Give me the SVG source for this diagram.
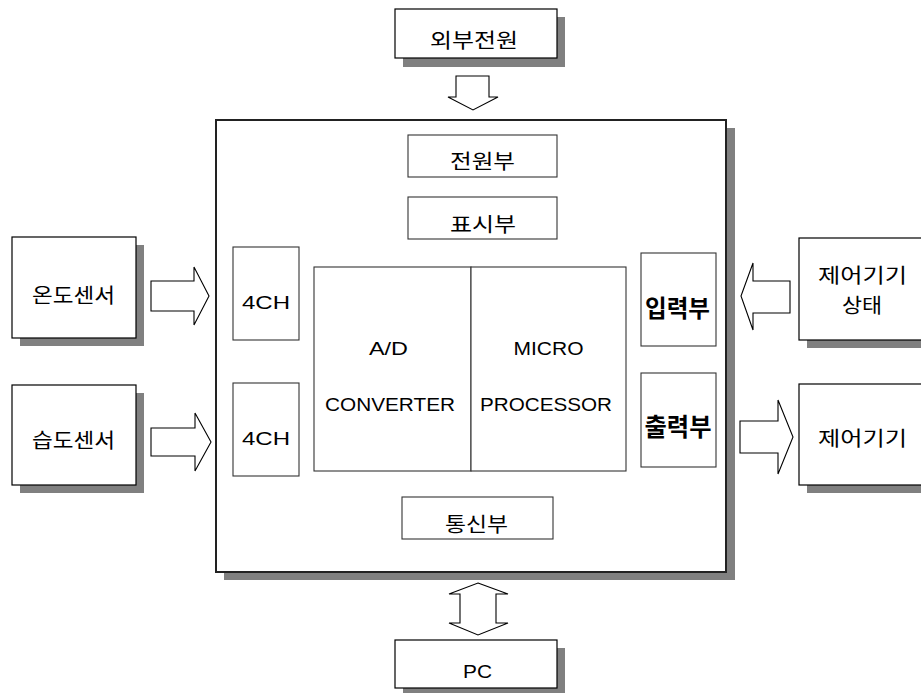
<svg xmlns="http://www.w3.org/2000/svg" width="921" height="693" viewBox="0 0 921 693">
<style>
.sh{fill:#808080;stroke:none}
.ob{fill:#fff;stroke:#000;stroke-width:1.2}
.mb{fill:#fff;stroke:#222;stroke-width:2}
.ib{fill:#fff;stroke:#333;stroke-width:1.1}
.ar{fill:#fff;stroke:#000;stroke-width:1.1;stroke-linejoin:miter}
.ko{font-family:"Noto Sans CJK KR","Noto Sans",sans-serif;font-size:20px;fill:#000;text-anchor:middle}
.la{font-family:"Liberation Sans",Arial,sans-serif;font-size:19px;fill:#000;text-anchor:middle}
</style>
<rect width="921" height="693" fill="#fff"/>
<g id="main">
<rect class="sh" x="224" y="128" width="511" height="452"/>
<rect class="mb" x="216" y="120" width="510" height="452"/>
</g>
<g id="ext-power">
<rect class="sh" x="403" y="17" width="162" height="50"/>
<rect class="ob" x="395" y="9" width="162" height="49"/>
<text class="ko" x="474" y="47.5" textLength="88" lengthAdjust="spacingAndGlyphs">외부전원</text>
</g>
<g id="temp-sensor">
<rect class="sh" x="20" y="245" width="124" height="101"/>
<rect class="ob" x="12" y="237" width="124" height="101"/>
<text class="ko" x="73.5" y="302.5" textLength="83" lengthAdjust="spacingAndGlyphs">온도센서</text>
</g>
<g id="humid-sensor">
<rect class="sh" x="20" y="393" width="124" height="100"/>
<rect class="ob" x="12" y="385" width="124" height="100"/>
<text class="ko" x="73.5" y="448" textLength="83" lengthAdjust="spacingAndGlyphs">습도센서</text>
</g>
<g id="ctrl-state">
<rect class="sh" x="807" y="246" width="130" height="102"/>
<rect class="ob" x="799" y="238" width="130" height="102"/>
<text class="ko" x="862.5" y="283" font-size="17" textLength="89" lengthAdjust="spacingAndGlyphs">제어기기</text>
<text class="ko" x="862" y="313" font-size="17" textLength="40" lengthAdjust="spacingAndGlyphs">상태</text>
</g>
<g id="ctrl-device">
<rect class="sh" x="807" y="392" width="130" height="101"/>
<rect class="ob" x="799" y="384" width="130" height="101"/>
<text class="ko" x="862.5" y="445.5" textLength="89" lengthAdjust="spacingAndGlyphs">제어기기</text>
</g>
<g id="pc">
<rect class="sh" x="403" y="648" width="162" height="48"/>
<rect class="ob" x="395" y="640" width="162" height="48"/>
<text class="la" x="477.5" y="678" font-size="20" textLength="29" lengthAdjust="spacingAndGlyphs">PC</text>
</g>
<g id="power-unit">
<rect class="ib" x="408" y="135" width="149" height="42"/>
<text class="ko" x="482.5" y="168.5" textLength="65" lengthAdjust="spacingAndGlyphs">전원부</text>
</g>
<g id="display-unit">
<rect class="ib" x="408" y="197" width="149" height="42"/>
<text class="ko" x="483" y="231.5" textLength="66" lengthAdjust="spacingAndGlyphs">표시부</text>
</g>
<g id="comm-unit">
<rect class="ib" x="402" y="497" width="151" height="42"/>
<text class="ko" x="476.5" y="531.5" textLength="63" lengthAdjust="spacingAndGlyphs">통신부</text>
</g>
<g id="ch1">
<rect class="ib" x="233" y="247" width="66" height="93"/>
<text class="la" x="266" y="309" textLength="48" lengthAdjust="spacingAndGlyphs">4CH</text>
</g>
<g id="ch2">
<rect class="ib" x="233" y="383" width="66" height="93"/>
<text class="la" x="266" y="445" textLength="48" lengthAdjust="spacingAndGlyphs">4CH</text>
</g>
<g id="adc">
<rect class="ib" x="314" y="267" width="157" height="204"/>
<text class="la" x="388.5" y="355" textLength="39" lengthAdjust="spacingAndGlyphs">A/D</text>
<text class="la" x="390" y="411" textLength="130" lengthAdjust="spacingAndGlyphs">CONVERTER</text>
</g>
<g id="mcu">
<rect class="ib" x="471" y="267" width="155" height="204"/>
<text class="la" x="548.5" y="355" textLength="70" lengthAdjust="spacingAndGlyphs">MICRO</text>
<text class="la" x="546" y="411" textLength="132" lengthAdjust="spacingAndGlyphs">PROCESSOR</text>
</g>
<g id="input-unit">
<rect class="ib" x="641" y="253" width="75" height="93"/>
<text class="ko" transform="translate(677.5 316.5) scale(1 1.2)" x="0" y="0" font-weight="bold" textLength="65" lengthAdjust="spacingAndGlyphs">입력부</text>
</g>
<g id="output-unit">
<rect class="ib" x="641" y="373" width="75" height="94"/>
<text class="ko" transform="translate(678 436) scale(1 1.25)" x="0" y="0" font-weight="bold" textLength="67" lengthAdjust="spacingAndGlyphs">출력부</text>
</g>
<g id="connectors">
<polygon class="ar" points="456,76 489,76 489,97 498,97 473,110 448,97 456,97"/>
<polygon class="ar" points="151,281 194,281 194,267 209,296 194,325 194,311 151,311"/>
<polygon class="ar" points="151,428 195,428 195,413 211,442 195,471 195,456 151,456"/>
<polygon class="ar" points="790,281 753,281 753,263 741,296 753,330 753,313 790,313"/>
<polygon class="ar" points="740,421 778,421 778,400 793,437 778,474 778,453 740,453"/>
<polygon class="ar" points="478,583 508,594 496,594 496,623 508,623 478,635 449,623 460,623 460,594 449,594"/>
</g>
</svg>
